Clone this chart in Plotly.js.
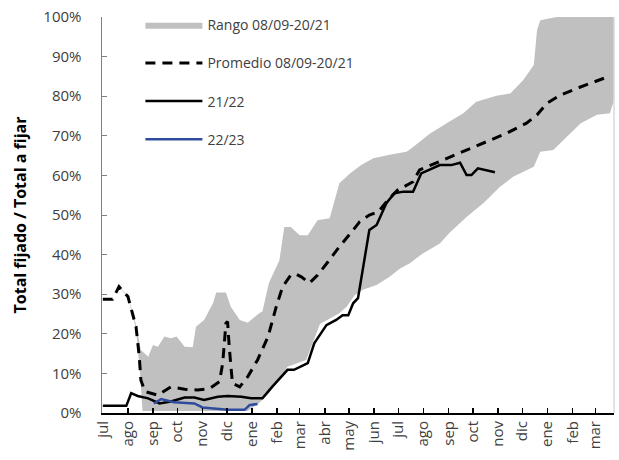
<!DOCTYPE html>
<html>
<head>
<meta charset="utf-8">
<script src="https://cdn.plot.ly/plotly-3.0.1.min.js"></script>
<style>
  html, body { margin: 0; padding: 0; background: #fff; }
  #chart { width: 619px; height: 460px; }
</style>
</head>
<body>
<div id="chart"></div>
<script>
// etiquetas de meses (inicio de cada mes)
let month_dates = ["2021-07-01", "2021-08-01", "2021-09-01", "2021-10-01", "2021-11-01", "2021-12-01",
    "2022-01-01", "2022-02-01", "2022-03-01", "2022-04-01", "2022-05-01", "2022-06-01",
    "2022-07-01", "2022-08-01", "2022-09-01", "2022-10-01", "2022-11-01", "2022-12-01",
    "2023-01-01", "2023-02-01", "2023-03-01"];
let month_labels = ["jul", "ago", "sep", "oct", "nov", "dic", "ene", "feb", "mar", "abr", "may", "jun",
    "jul", "ago", "sep", "oct", "nov", "dic", "ene", "feb", "mar"];

// rango 08/09-20/21: borde superior
let upper_dates = ["2021-07-01", "2021-07-13", "2021-07-21", "2021-08-01", "2021-08-11", "2021-08-17",
    "2021-08-26", "2021-09-01", "2021-09-07", "2021-09-15", "2021-09-23", "2021-09-30", "2021-10-10",
    "2021-10-20", "2021-10-24", "2021-11-03", "2021-11-14", "2021-11-18", "2021-11-30", "2021-12-06",
    "2021-12-17", "2021-12-27", "2022-01-10", "2022-01-14", "2022-01-22", "2022-02-04", "2022-02-10",
    "2022-02-18", "2022-03-01", "2022-03-11", "2022-03-23", "2022-04-07", "2022-04-19", "2022-05-02",
    "2022-05-16", "2022-05-31", "2022-06-20", "2022-07-11", "2022-07-19", "2022-08-09", "2022-09-02",
    "2022-09-19", "2022-10-05", "2022-10-30", "2022-11-16", "2022-12-02", "2022-12-15", "2022-12-19",
    "2022-12-23", "2023-01-12", "2023-03-24"];
let upper_vals = [28.7, 28.7, 31.9, 29.6, 22.3, 15.9,
    14.2, 17.2, 16.7, 19.3, 18.9, 19.3, 16.7,
    16.6, 21.8, 23.5, 27.7, 30.4, 30.4, 26.8,
    23.5, 22.8, 25.2, 25.6, 32.8, 38.6, 47.0,
    47.0, 44.9, 44.9, 48.7, 49.2, 58.0, 60.5,
    62.6, 64.3, 65.2, 66.0, 67.2, 70.6, 73.6,
    75.7, 78.6, 80.1, 80.7, 84.1, 87.9, 96.7,
    99.2, 100, 100];

// rango 08/09-20/21: borde inferior
let lower_dates = ["2021-07-01", "2021-07-13", "2021-07-21", "2021-08-01", "2021-08-11", "2021-08-16",
    "2021-08-19", "2021-12-27", "2022-01-10", "2022-01-22", "2022-02-14", "2022-03-09", "2022-03-26",
    "2022-04-03", "2022-04-19", "2022-04-28", "2022-05-08", "2022-05-18", "2022-06-04", "2022-06-20",
    "2022-07-03", "2022-07-15", "2022-07-31", "2022-08-21", "2022-09-02", "2022-09-23", "2022-10-14",
    "2022-11-03", "2022-11-20", "2022-12-15", "2022-12-23", "2023-01-08", "2023-01-25", "2023-02-11",
    "2023-03-03", "2023-03-19", "2023-03-24"];
let lower_vals = [28.7, 28.7, 31.9, 29.2, 21.3, 10.0,
    0.5, 0.5, 2.5, 5.0, 11.7, 13.4, 22.5,
    23.5, 25.2, 26.8, 29.8, 31.1, 32.3, 34.4,
    36.5, 37.8, 40.3, 42.8, 45.5, 49.5, 53.0,
    57.1, 59.7, 62.2, 66.0, 66.4, 69.8, 73.2,
    75.3, 75.7, 79.0];

// promedio 08/09-20/21
let avg_dates = ["2021-07-01", "2021-07-13", "2021-07-21", "2021-08-01", "2021-08-11", "2021-08-15",
    "2021-08-17", "2021-08-22", "2021-09-07", "2021-09-23", "2021-10-10", "2021-10-26", "2021-11-10",
    "2021-11-22", "2021-11-26", "2021-11-30", "2021-12-02", "2021-12-04", "2021-12-08", "2021-12-17",
    "2021-12-27", "2022-01-08", "2022-01-21", "2022-01-31", "2022-02-08", "2022-02-18", "2022-02-24",
    "2022-03-03", "2022-03-13", "2022-03-23", "2022-04-05", "2022-04-19", "2022-05-06", "2022-05-14",
    "2022-05-26", "2022-06-06", "2022-06-18", "2022-06-30", "2022-07-19", "2022-07-27", "2022-08-25",
    "2022-09-19", "2022-10-14", "2022-11-11", "2022-12-06", "2022-12-19", "2022-12-31", "2023-01-17",
    "2023-02-09", "2023-03-15"];
let avg_vals = [28.7, 28.7, 31.9, 29.4, 21.8, 14.2,
    8.3, 5.4, 4.5, 6.6, 6.0, 5.8, 6.2,
    7.9, 12.6, 22.7, 23.1, 16.8, 7.5, 6.6,
    9.2, 13.4, 19.3, 26.8, 31.9, 34.8, 35.1,
    34.4, 32.8, 34.8, 38.2, 42.0, 46.2, 48.3,
    50.0, 50.8, 53.8, 56.3, 58.4, 61.4, 63.9,
    66.0, 68.1, 70.6, 73.2, 75.3, 78.2, 80.3,
    82.2, 84.8];

// campaña 21/22
let c2122_dates = ["2021-07-01", "2021-07-30", "2021-08-05", "2021-08-13", "2021-08-26", "2021-09-09",
    "2021-09-23", "2021-10-10", "2021-10-22", "2021-11-03", "2021-11-20", "2021-12-02", "2021-12-19",
    "2021-12-31", "2022-01-14", "2022-01-26", "2022-02-14", "2022-02-22", "2022-03-11", "2022-03-19",
    "2022-04-03", "2022-04-15", "2022-04-23", "2022-04-30", "2022-05-06", "2022-05-12", "2022-05-26",
    "2022-06-04", "2022-06-16", "2022-06-26", "2022-07-07", "2022-07-19", "2022-07-29", "2022-08-13",
    "2022-08-21", "2022-09-04", "2022-09-15", "2022-09-23", "2022-09-29", "2022-10-07", "2022-10-28"];
let c2122_vals = [1.8, 1.8, 5.0, 4.3, 3.7, 2.4,
    2.9, 3.9, 3.9, 3.3, 4.1, 4.3, 4.1,
    3.7, 3.7, 6.6, 10.9, 10.9, 12.6, 17.6,
    22.2, 23.5, 24.7, 24.7, 27.7, 29.0, 46.2,
    47.5, 53.0, 55.5, 55.9, 55.9, 60.5, 61.8,
    62.6, 62.6, 63.2, 60.1, 60.1, 61.8, 60.8];

// campaña 22/23
let c2223_dates = ["2021-09-02", "2021-09-11", "2021-09-27", "2021-10-22", "2021-11-01", "2021-11-16",
    "2021-12-02", "2021-12-23", "2021-12-29", "2022-01-08"];
let c2223_vals = [2.4, 3.5, 2.7, 2.4, 1.4, 1.2, 0.8, 0.8, 2.0, 2.3];

let font_family = "'Open Sans', 'Noto Sans', sans-serif";

let data = [
    {
        x: upper_dates.concat(lower_dates.slice().reverse()),
        y: upper_vals.concat(lower_vals.slice().reverse()),
        type: "scatter",
        mode: "lines",
        fill: "toself",
        fillcolor: "#c0c0c0",
        line: { width: 0, color: "#c0c0c0" },
        name: "Rango 08/09-20/21",
        legendgroup: "a",
        hoverinfo: "skip"
    },
    {
        x: avg_dates,
        y: avg_vals,
        type: "scatter",
        mode: "lines",
        line: { color: "#000000", width: 3, dash: "10px,7px" },
        name: "Promedio 08/09-20/21",
        legendgroup: "b"
    },
    {
        x: c2122_dates,
        y: c2122_vals,
        type: "scatter",
        mode: "lines",
        line: { color: "#000000", width: 2.5 },
        name: "21/22",
        legendgroup: "c"
    },
    {
        x: c2223_dates,
        y: c2223_vals,
        type: "scatter",
        mode: "lines",
        line: { color: "#2f4b9e", width: 2.5 },
        name: "22/23",
        legendgroup: "d"
    }
];

let layout = {
    width: 619,
    height: 460,
    margin: { l: 102, r: 5, t: 17, b: 47 },
    paper_bgcolor: "#ffffff",
    plot_bgcolor: "#ffffff",
    font: { family: font_family, size: 14, color: "#404040" },
    showlegend: true,
    legend: {
        x: 0.075, y: 1.02, xanchor: "left", yanchor: "top",
        bgcolor: "rgba(0,0,0,0)",
        traceorder: "grouped",
        tracegroupgap: 17,
        itemwidth: 57,
        font: { family: font_family, size: 14, color: "#404040" }
    },
    xaxis: {
        type: "date",
        range: ["2021-06-30", "2023-03-24"],
        tickmode: "array",
        tickvals: month_dates,
        ticktext: month_labels,
        tickangle: -90,
        ticks: "inside",
        ticklen: 5,
        tickwidth: 1.5,
        tickcolor: "#000000",
        showline: true,
        linecolor: "#000000",
        linewidth: 2,
        showgrid: false,
        zeroline: false,
        tickfont: { family: font_family, size: 15, color: "#404040" }
    },
    yaxis: {
        range: [0, 100],
        dtick: 10,
        ticksuffix: "%",
        ticks: "inside",
        ticklen: 5,
        tickcolor: "#808080",
        showline: true,
        linecolor: "#808080",
        linewidth: 1.5,
        showgrid: false,
        zeroline: false,
        ticklabelstandoff: 16,
        tickfont: { family: font_family, size: 15, color: "#404040" },
        title: {
            text: "<b>Total fijado / Total a fijar</b>",
            font: { family: font_family, size: 16, color: "#000000" },
            standoff: 13
        }
    },
    shapes: [
        { type: "line", xref: "paper", yref: "paper", x0: 1, x1: 1, y0: 0, y1: 1,
          line: { color: "#d9d9d9", width: 1.5 } }
    ]
};

Plotly.newPlot("chart", data, layout, { displayModeBar: false, staticPlot: true });
</script>
</body>
</html>
